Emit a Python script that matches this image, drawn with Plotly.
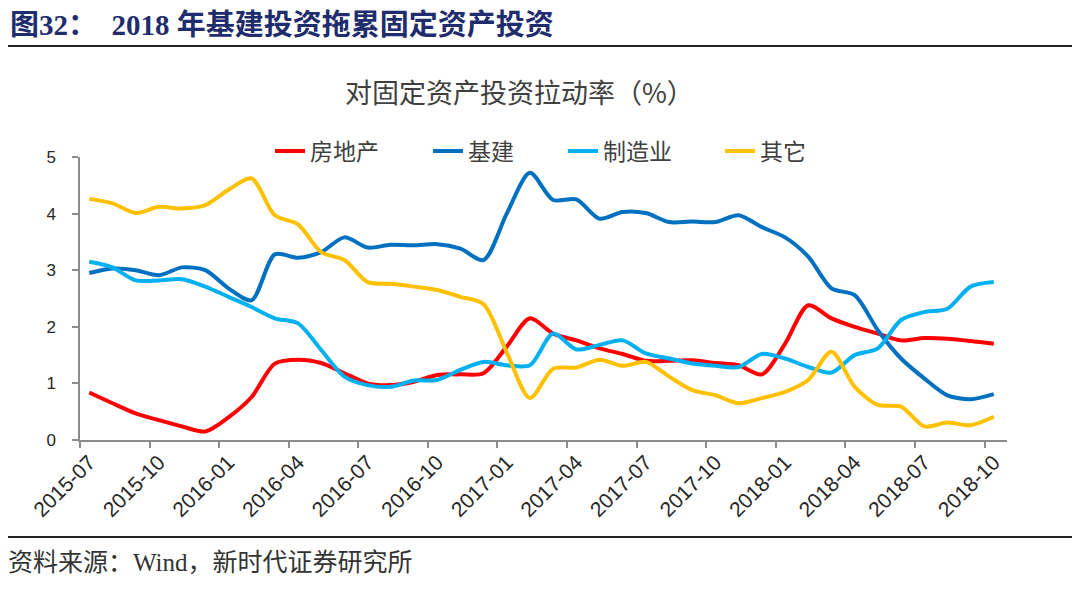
import plotly.graph_objects as go

months = ["2015-07","2015-08","2015-09","2015-10","2015-11","2015-12","2016-01","2016-02","2016-03","2016-04",
          "2016-05","2016-06","2016-07","2016-08","2016-09","2016-10","2016-11","2016-12","2017-01","2017-02",
          "2017-03","2017-04","2017-05","2017-06","2017-07","2017-08","2017-09","2017-10","2017-11","2017-12",
          "2018-01","2018-02","2018-03","2018-04","2018-05","2018-06","2018-07","2018-08","2018-09","2018-10"]

real_estate = [0.84,0.65,0.47,0.35,0.24,0.15,0.40,0.76,1.35,1.42,
               1.36,1.18,1.00,0.97,1.03,1.15,1.16,1.18,1.65,2.15,
               1.88,1.76,1.62,1.52,1.40,1.40,1.41,1.36,1.32,1.16,
               1.70,2.38,2.15,2.00,1.88,1.76,1.80,1.79,1.75,1.70]
infrastructure = [2.95,3.03,3.00,2.91,3.05,3.00,2.68,2.47,3.28,3.22,
                  3.32,3.58,3.40,3.45,3.44,3.46,3.38,3.18,4.00,4.72,
                  4.24,4.25,3.91,4.03,4.01,3.85,3.86,3.85,3.97,3.76,
                  3.58,3.24,2.68,2.56,1.94,1.44,1.09,0.79,0.72,0.81]
manufacturing = [3.15,3.05,2.82,2.82,2.84,2.71,2.53,2.35,2.15,2.06,
                 1.59,1.12,0.97,0.94,1.05,1.06,1.24,1.38,1.32,1.32,
                 1.88,1.60,1.68,1.76,1.53,1.44,1.35,1.31,1.29,1.52,
                 1.44,1.29,1.19,1.50,1.62,2.12,2.26,2.32,2.71,2.79]
others = [4.26,4.18,4.01,4.12,4.09,4.15,4.42,4.62,3.97,3.81,
          3.32,3.18,2.79,2.76,2.71,2.65,2.53,2.40,1.55,0.74,
          1.26,1.28,1.42,1.31,1.38,1.12,0.88,0.79,0.65,0.74,
          0.85,1.06,1.56,0.94,0.62,0.59,0.24,0.31,0.26,0.41]

series_names = ["房地产", "基建", "制造业", "其它"]
series_values = [real_estate, infrastructure, manufacturing, others]
series_colors = ["#FF0000", "#0070C0", "#00B0F0", "#FFC000"]

tick_months = months[::3]

# page has an 8px body margin; work in window-pixel coordinates
OFF = 8
FW, FH = 1080 - OFF, 590 - OFF
L, R, T, B = 80, 1007, 157, 440
W, H = R - L, B - T

def px(x):
    return (x - L) / W

def py(y):
    return (B - y) / H

legend_ids = ["legend", "legend2", "legend3", "legend4"]
legend_text_x = [312, 470, 605, 762]

xs = list(range(len(months)))
fig = go.Figure()
for name, vals, col, lid in zip(series_names, series_values, series_colors, legend_ids):
    fig.add_trace(go.Scatter(x=xs, y=vals, name=name, mode="lines", legend=lid,
                             line=dict(color=col, width=4, shape="spline", smoothing=0.8),
                             hoverinfo="skip"))

label_vals = [months.index(m) for m in tick_months]

legend_layouts = {}
for lid, tx in zip(legend_ids, legend_text_x):
    legend_layouts[lid] = dict(orientation="h", x=px(tx - 42), xanchor="left", y=py(151), yanchor="middle",
                               font=dict(family="Noto Sans CJK SC", size=23, color="#404040"),
                               bgcolor="rgba(0,0,0,0)")

fig.update_layout(
    width=FW, height=FH,
    margin=dict(l=L - OFF, r=FW - (R - OFF), t=T - OFF, b=FH - (B - OFF), autoexpand=False),
    paper_bgcolor="white", plot_bgcolor="white",
    showlegend=True,
    **legend_layouts,
    xaxis=dict(range=[-0.4, 39.57], tickvals=label_vals, ticktext=tick_months, tickangle=-45,
               showline=True, linecolor="#8C8C8C", linewidth=1.5, ticks="",
               showgrid=False, zeroline=False,
               minor=dict(tick0=-0.4, dtick=3, ticks="outside", ticklen=6, tickcolor="#8C8C8C",
                          tickwidth=1.5, showgrid=False),
               tickfont=dict(family="Liberation Sans", size=21, color="#262626")),
    yaxis=dict(range=[0, 5], tickvals=[0, 1, 2, 3, 4, 5], showline=True, linecolor="#8C8C8C",
               linewidth=1.5, ticks="outside", ticklen=6, tickcolor="#8C8C8C", tickwidth=1.5,
               showgrid=False, zeroline=False, ticklabelstandoff=13,
               tickfont=dict(family="Liberation Sans", size=17, color="#262626")),
    annotations=[
        dict(text="<b>图32：  2018 年基建投资拖累固定资产投资</b>", x=px(8), y=py(25), xref="paper", yref="paper",
             xanchor="left", yanchor="middle", showarrow=False,
             font=dict(family="Liberation Serif, Noto Sans CJK SC", size=29, color="#1F2D6E")),
        dict(text="对固定资产投资拉动率（%）", x=px(519), y=py(92), xref="paper", yref="paper",
             xanchor="center", yanchor="middle", showarrow=False,
             font=dict(family="Noto Sans CJK SC", size=27, color="#404040")),
        dict(text="资料来源：Wind，新时代证券研究所", x=px(6), y=py(562), xref="paper", yref="paper",
             xanchor="left", yanchor="middle", showarrow=False,
             font=dict(family="Liberation Serif, Noto Sans CJK SC", size=25, color="#333333")),
    ],
    shapes=[
        dict(type="line", xref="paper", yref="paper", x0=px(5), x1=px(1078), y0=py(46), y1=py(46),
             line=dict(color="#222222", width=2)),
        dict(type="line", xref="paper", yref="paper", x0=px(5), x1=px(1078), y0=py(537), y1=py(537),
             line=dict(color="#222222", width=2)),
    ],
)

fig.write_html("out.html")
